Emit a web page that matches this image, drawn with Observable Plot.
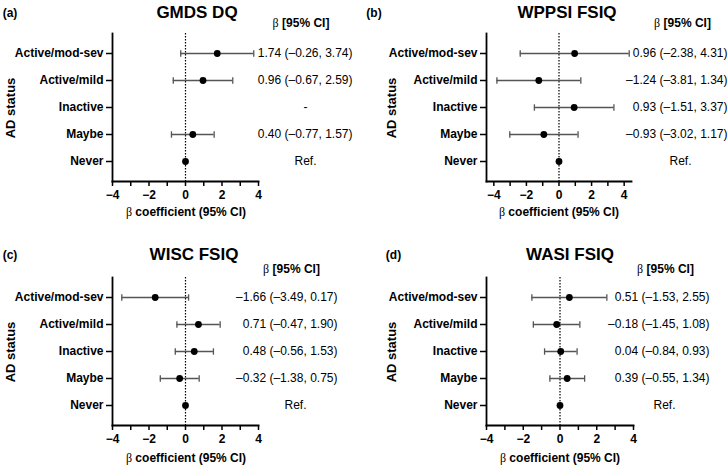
<!DOCTYPE html>
<html><head><meta charset="utf-8">
<script src="https://cdn.jsdelivr.net/npm/d3@7"></script>
<script src="https://cdn.jsdelivr.net/npm/@observablehq/plot@0.6"></script>
<style>
html,body{margin:0;padding:0;background:#fff;overflow:hidden;}
#root{position:relative;width:728px;height:467px;font-family:"Liberation Sans",Arial,sans-serif;color:#000;}
.panel{position:absolute;}
.lbl{position:absolute;white-space:nowrap;line-height:1;transform:translate(-50%,-50%);font-weight:bold;}
.beta{font-weight:normal;font-family:"Liberation Serif","Times New Roman",serif;}
</style></head><body><div id="root"></div>
<script>
// ---- data ----
const categories = ["Active/mod-sev", "Active/mild", "Inactive", "Maybe", "Never"];
const xTicks = [-4, -2, 0, 2, 4];
const xMinorTicks = [-3, -1, 1, 3];

const gmdsEst = [1.74, 0.96, null, 0.40, 0];
const gmdsLo  = [-0.26, -0.67, null, -0.77, null];
const gmdsHi  = [3.74, 2.59, null, 1.57, null];

const wppsiEst = [0.96, -1.24, 0.93, -0.93, 0];
const wppsiLo  = [-2.38, -3.81, -1.51, -3.02, null];
const wppsiHi  = [4.31, 1.34, 3.37, 1.17, null];

const wiscEst = [-1.66, 0.71, 0.48, -0.32, 0];
const wiscLo  = [-3.49, -0.47, -0.56, -1.38, null];
const wiscHi  = [0.17, 1.90, 1.53, 0.75, null];

const wasiEst = [0.51, -0.18, 0.04, 0.39, 0];
const wasiLo  = [-1.53, -1.45, -0.84, -0.55, null];
const wasiHi  = [2.55, 1.08, 0.93, 1.34, null];

const titles = ["GMDS DQ", "WPPSI FSIQ", "WISC FSIQ", "WASI FSIQ"];
const tags = ["(a)", "(b)", "(c)", "(d)"];

// ---- layout ----
const panels = [
  {est: gmdsEst, lo: gmdsLo, hi: gmdsHi, left: 0, top: 0, ml: 112, mr: 106, domain: [-4, 4], numDx: 94, refDx: 47,
   title: [197, 12], tag: [10, 13], hdr: [301, 23], xlab: [186, 212], ylab: [10, 108]},
  {est: wppsiEst, lo: wppsiLo, hi: wppsiHi, left: 364, top: 0, ml: 122, mr: 97, domain: [-4.45, 4.45], numDx: 96, refDx: 49,
   title: [567, 12], tag: [374, 13], hdr: [682.5, 23], xlab: [559, 212], ylab: [391, 108]},
  {est: wiscEst, lo: wiscLo, hi: wiscHi, left: 0, top: 244, ml: 112, mr: 106, domain: [-4, 4], numDx: 79, refDx: 37,
   title: [194, 254], tag: [10, 255], hdr: [291.5, 269], xlab: [186, 458], ylab: [10, 352]},
  {est: wasiEst, lo: wasiLo, hi: wasiHi, left: 364, top: 244, ml: 122, mr: 95, domain: [-4, 4], numDx: 76, refDx: 31,
   title: [570, 254], tag: [393.5, 255], hdr: [665.5, 269], xlab: [560, 458], ylab: [391, 352]}
];

const f = v => v.toFixed(2).replace("-", "\u2013");
const capSymbol = {draw(ctx, size) { const h = Math.sqrt(size / Math.PI); ctx.moveTo(0, -h); ctx.lineTo(0, h); }};
const root = document.getElementById("root");

function label(html, x, y, extra) {
  const d = document.createElement("div");
  d.className = "lbl";
  d.innerHTML = html;
  d.style.left = x + "px";
  d.style.top = y + "px";
  Object.assign(d.style, extra || {});
  root.appendChild(d);
  return d;
}

panels.forEach((p, k) => {
  const rows = categories.map((c, i) => ({cat: c, est: p.est[i], lo: p.lo[i], hi: p.hi[i]}));
  const ci = rows.filter(d => d.lo != null);
  const pts = rows.filter(d => d.est != null);
  const num = ci.map(d => ({cat: d.cat, text: `${f(d.est)} (${f(d.lo)}, ${f(d.hi)})`}));
  const other = rows.filter(d => d.lo == null).map(d => ({cat: d.cat, text: d.est === 0 ? "Ref." : "-"}));
  const svg = Plot.plot({
    width: 364, height: 230,
    marginLeft: p.ml, marginRight: p.mr, marginTop: 33, marginBottom: 49,
    style: {fontFamily: '"Liberation Sans", Arial, sans-serif', fontSize: "12px", color: "#000", background: "transparent", overflow: "visible"},
    x: {domain: p.domain},
    y: {type: "point", domain: categories, padding: 0.67},
    marks: [
      Plot.ruleX([0], {stroke: "#000", strokeWidth: 1.2, strokeDasharray: "1.5,1.5"}),
      Plot.ruleY(ci, {y: "cat", x1: "lo", x2: "hi", stroke: "#555", strokeWidth: 1.3}),
      Plot.dot(ci, {x: "lo", y: "cat", symbol: capSymbol, r: 3.2, stroke: "#555", strokeWidth: 1.3, fill: "none"}),
      Plot.dot(ci, {x: "hi", y: "cat", symbol: capSymbol, r: 3.2, stroke: "#555", strokeWidth: 1.3, fill: "none"}),
      Plot.dot(pts, {x: "est", y: "cat", r: 3.4, fill: "#000", stroke: "none"}),
      Plot.axisY({tickSize: 6, tickPadding: 3, fontWeight: "bold", fontSize: 12, label: null, strokeWidth: 1.5}),
      Plot.axisX(xMinorTicks, {tickSize: 5, tickFormat: () => "", label: null, strokeWidth: 1.5}),
      Plot.axisX(xTicks, {tickSize: 5, tickPadding: 4, fontWeight: "bold", fontSize: 12, label: null, strokeWidth: 1.5}),
      Plot.frame({anchor: "left", strokeWidth: 1.8}),
      Plot.frame({anchor: "bottom", strokeWidth: 1.8}),
      Plot.text(num, {y: "cat", text: "text", frameAnchor: "right", textAnchor: "end", dx: p.numDx, fontSize: 12}),
      Plot.text(other, {y: "cat", text: "text", frameAnchor: "right", textAnchor: "middle", dx: p.refDx, fontSize: 12})
    ]
  });
  const wrap = document.createElement("div");
  wrap.className = "panel";
  wrap.style.left = p.left + "px";
  wrap.style.top = p.top + "px";
  wrap.appendChild(svg);
  root.appendChild(wrap);

  label(titles[k], p.title[0], p.title[1], {fontSize: "17px"});
  label(tags[k], p.tag[0], p.tag[1], {fontSize: "12px"});
  label('<span class="beta">\u03b2</span> [95% CI]', p.hdr[0], p.hdr[1], {fontSize: "12px"});
  label('<span class="beta">\u03b2</span> coefficient (95% CI)', p.xlab[0], p.xlab[1], {fontSize: "12px"});
  label("AD status", p.ylab[0], p.ylab[1], {fontSize: "13px", transform: "translate(-50%,-50%) rotate(-90deg)"});
});
</script></body></html>
